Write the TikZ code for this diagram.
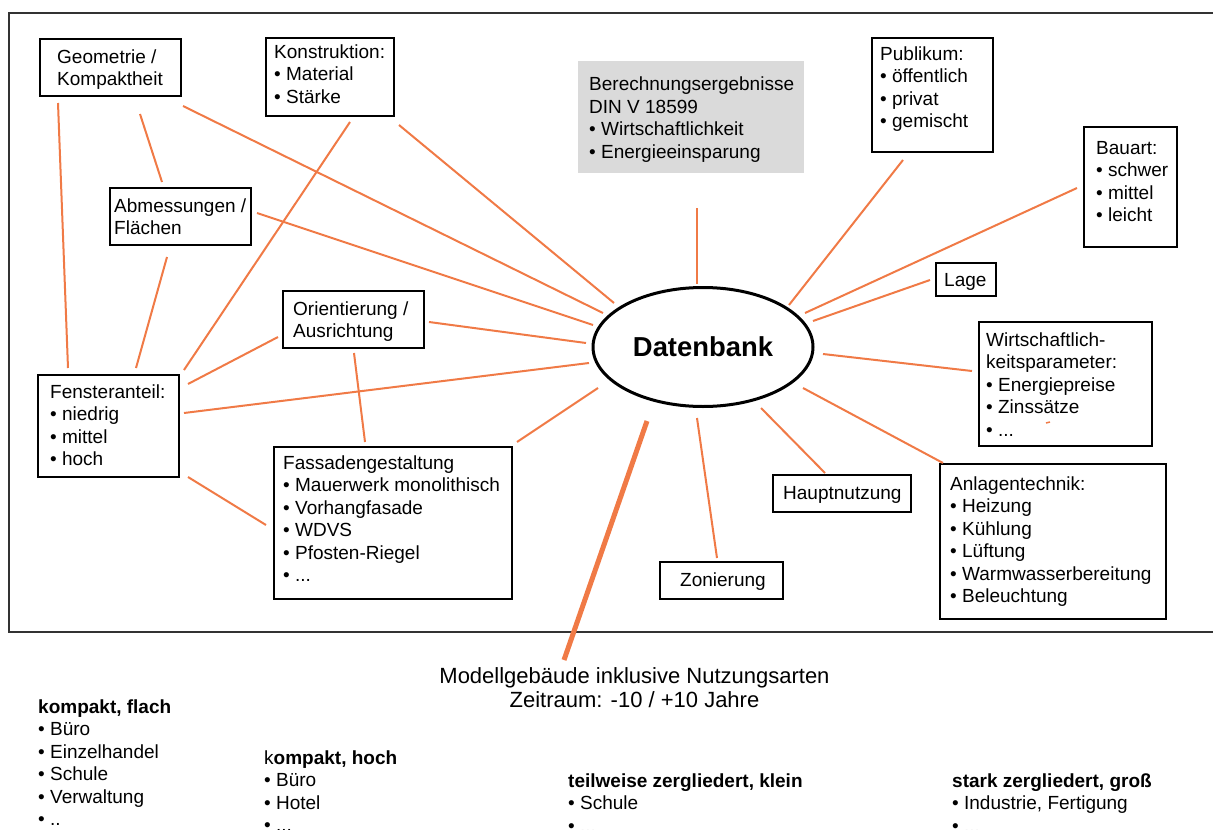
\documentclass[tikz,border=0pt]{standalone}
\usepackage{fontspec}
\setmainfont{Liberation Sans}
\usetikzlibrary{shapes.geometric}
\definecolor{linkc}{RGB}{240,122,70}
\definecolor{boxgray}{RGB}{218,218,218}
\newcommand{\boxfont}{\fontsize{19}{22.5}\selectfont}

\begin{document}
\begin{tikzpicture}[x=1pt,y=-1pt,
  box/.style={draw,line width=1.8pt,anchor=north west,inner sep=0pt,outer sep=0pt},
  txt/.style={anchor=base west,align=left,inner sep=0pt,font=\boxfont},
  link/.style={draw=linkc,line width=2pt}]
\useasboundingbox (0,0) rectangle (1213,830);
\clip (0,0) rectangle (1213,830);

% frame
\draw[line width=1.5pt,black!80] (1213,13) -| (9,632) -- (1213,632);

% boxes (text placed at the baseline of its last line)
\node[box,minimum width=141pt,minimum height=57pt] (geo) at (40,39) {};
\node[txt] (geo-t) at (57,85.5) {Geometrie /\\Kompaktheit};
\node[box,minimum width=128pt,minimum height=78pt] (kon) at (266,38) {};
\node[txt] (kon-t) at (274,103) {Konstruktion:\\• Material\\• Stärke};
\node[fill=boxgray,anchor=north west,inner sep=0pt,minimum width=226pt,minimum height=112pt] (ber) at (578,61) {};
\node[txt] (ber-t) at (589,158) {Berechnungsergebnisse\\DIN V 18599\\• Wirtschaftlichkeit\\• Energieeinsparung};
\node[box,minimum width=121pt,minimum height=114pt] (pub) at (872,38) {};
\node[txt] (pub-t) at (880,127.5) {Publikum:\\• öffentlich\\• privat\\• gemischt};
\node[box,minimum width=93pt,minimum height=120pt] (bau) at (1084,127) {};
\node[txt] (bau-t) at (1096,221.5) {Bauart:\\• schwer\\• mittel\\• leicht};
\node[box,minimum width=60pt,minimum height=33pt] (lage) at (936,263) {};
\node[txt] (lage-t) at (944,286) {Lage};
\node[box,minimum width=141pt,minimum height=57pt] (abm) at (110,188) {};
\node[txt] (abm-t) at (114,234.5) {Abmessungen /\\Flächen};
\node[box,minimum width=141pt,minimum height=57pt] (ori) at (283,291) {};
\node[txt] (ori-t) at (293,337.5) {Orientierung /\\Ausrichtung};
\node[box,minimum width=141pt,minimum height=102pt] (fen) at (38,375) {};
\node[txt] (fen-t) at (50,465.5) {Fensteranteil:\\• niedrig\\• mittel\\• hoch};
\node[box,minimum width=238pt,minimum height=152pt] (fas) at (274,447) {};
\node[txt] (fas-t) at (283,581.5) {Fassadengestaltung\\• Mauerwerk monolithisch\\• Vorhangfasade\\• WDVS\\• Pfosten-Riegel\\• ...};
\node[box,minimum width=173pt,minimum height=124pt] (wir) at (979,322) {};
\node[txt] (wir-t) at (986,436) {Wirtschaftlich-\\keitsparameter:\\• Energiepreise\\• Zinssätze\\• ...};
\node[box,minimum width=226pt,minimum height=155pt] (anl) at (940,464) {};
\node[txt] (anl-t) at (950,602.5) {Anlagentechnik:\\• Heizung\\• Kühlung\\• Lüftung\\• Warmwasserbereitung\\• Beleuchtung};
\node[box,minimum width=138pt,minimum height=37pt] (hau) at (773,475) {};
\node[txt] (hau-t) at (783,499) {Hauptnutzung};
\node[box,minimum width=123pt,minimum height=37pt] (zon) at (660,562) {};
\node[txt] (zon-t) at (680,586) {Zonierung};

\node[draw,ellipse,line width=3pt,minimum width=220pt,minimum height=119pt,inner sep=0pt,
  font=\fontsize{27.4}{30}\selectfont\bfseries] (db) at (703,347) {Datenbank};

% connectors
\draw[link] ([shift={(18,7)}]geo.south west) -- ([shift={(30,-7)}]fen.north west);
\draw[link] ([shift={(100,18)}]geo.south west) -- ([shift={(52,-6)}]abm.north west);
\draw[link] ([shift={(2,10)}]geo.south east) -- ([shift={(-100,-34)}]db.center);
\draw[link] ([shift={(84,6)}]kon.south west) -- ([shift={(5,-5)}]fen.north east);
\draw[link] ([shift={(5,9)}]kon.south east) -- ([shift={(-89,-44)}]db.center);
\draw[link] ([shift={(57,12)}]abm.south west) -- ([shift={(98,-7)}]fen.north west);
\draw[link] ([shift={(6,25)}]abm.north east) -- ([shift={(-110,-22)}]db.center);
\draw[link] ([shift={(-5,-11)}]ori.south west) -- ([shift={(9,9)}]fen.north east);
\draw[link] ([shift={(5,31)}]ori.north east) -- ([shift={(-117,-4)}]db.center);
\draw[link] ([shift={(71,5)}]ori.south west) -- ([shift={(91,-5)}]fas.north west);
\draw[link] ([shift={(5,38)}]fen.north east) -- ([shift={(-114,16)}]db.center);
\draw[link] ([shift={(9,0)}]fen.south east) -- ([shift={(-8,78)}]fas.north west);
\draw[link] ([shift={(5,-5)}]fas.north east) -- ([shift={(-105,41)}]db.center);
\draw[link] ([shift={(119,35)}]ber.south west) -- ([shift={(-6,-63)}]db.center);
\draw[link] ([shift={(86,-42)}]db.center) -- ([shift={(31,8)}]pub.south west);
\draw[link] ([shift={(102,-34)}]db.center) -- ([shift={(-7,61)}]bau.north west);
\draw[link] ([shift={(110,-26)}]db.center) -- ([shift={(-6,17)}]lage.north west);
\draw[link] ([shift={(120,7)}]db.center) -- ([shift={(-7,49)}]wir.north west);
\draw[link] ([shift={(100,41)}]db.center) -- ([shift={(3,-1)}]anl.north west);
\draw[link] ([shift={(58,61)}]db.center) -- ([shift={(52,-2)}]hau.north west);
\draw[link] ([shift={(-6,71)}]db.center) -- ([shift={(57,-4)}]zon.north west);
\draw[linkc,line width=1.5pt] ([shift={(67,101)}]wir.north west) -- ++(4,-1);

% below the frame
\node[anchor=north,align=center,inner sep=0pt,font=\fontsize{22}{24}\selectfont] (modell) at (634.5,667)
  {Modellgebäude inklusive Nutzungsarten\\Zeitraum: -10 / +10 Jahre};
\draw[linkc,line width=5pt] ([shift={(-56,74)}]db.center) -- ([shift={(-70.5,-7)}]modell.north);

\node[txt] (flach) at (38,825.5) {\textbf{kompakt, flach}\\• Büro\\• Einzelhandel\\• Schule\\• Verwaltung\\• ..};
\node[txt] (hoch) at (264,831.5) {k\textbf{ompakt, hoch}\\• Büro\\• Hotel\\• ...};
\node[txt] (klein) at (568,832) {\textbf{teilweise zergliedert, klein}\\• Schule\\• ...};
\node[txt] (gross) at (952,832) {\textbf{stark zergliedert, groß}\\• Industrie, Fertigung\\• ...};
\end{tikzpicture}
\end{document}
